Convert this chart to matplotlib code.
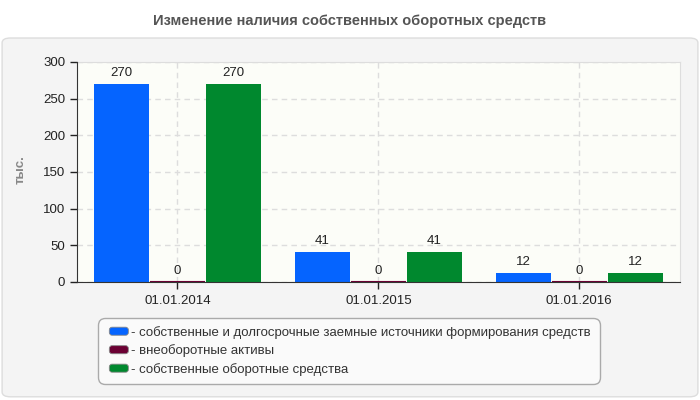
import matplotlib
matplotlib.use("Agg")
import matplotlib.pyplot as plt
from matplotlib.patches import FancyBboxPatch, Rectangle
from matplotlib.legend_handler import HandlerPatch
import numpy as np

plt.rcParams['font.family'] = ['Liberation Sans', 'DejaVu Sans']
plt.rcParams['hatch.linewidth'] = 0.6
plt.rcParams['hatch.color'] = '#ececec'

dates = ["01.01.2014", "01.01.2015", "01.01.2016"]
series_names = [
    "собственные и долгосрочные заемные источники формирования средств",
    "внеоборотные активы",
    "собственные оборотные средства",
]
own_long_term = [270, 41, 12]
non_current = [0, 0, 0]
working_capital = [270, 41, 12]
colors = ["#0564ff", "#6b0033", "#00882e"]
y_ticks = [0, 50, 100, 150, 200, 250, 300]

fig = plt.figure(figsize=(7, 4), dpi=100)
fig.patch.set_facecolor("white")

# outer rounded panel
panel = FancyBboxPatch((0.003, 0.008), 0.994, 0.897,
                       boxstyle="round,pad=0,rounding_size=0.012",
                       transform=fig.transFigure, facecolor="#f4f4f4",
                       edgecolor="#dddddd", linewidth=1, zorder=-10)
fig.patches.append(panel)

fig.text(0.5, 0.948, "Изменение наличия собственных оборотных средств",
         ha="center", va="center", fontsize=10.5, fontweight="bold", color="#555555")

ax = fig.add_axes([0.11, 0.295, 0.861, 0.55])
ax.patch.set_facecolor("#fcfdf8")
ax.patch.set_hatch("//////")

x = np.arange(len(dates))
w = 55 / 201
step = 56 / 201
all_series = [own_long_term, non_current, working_capital]
for i, (vals, c, name) in enumerate(zip(all_series, colors, series_names)):
    pos = x + (i - 1) * step
    ax.bar(pos, vals, width=w, color=c, zorder=3,
           edgecolor=c, linewidth=1.5 if max(vals) == 0 else 0)
    for p, v in zip(pos, vals):
        ax.text(p, v + 7, str(v), ha="center", va="bottom", fontsize=9.5,
                color="#222222", zorder=4)

ax.set_xlim(-0.5, 2.5)
ax.set_ylim(0, 300)
ax.set_yticks(y_ticks)
ax.set_xticks(x)
ax.set_xticklabels(dates)
ax.tick_params(axis="both", labelsize=9.5, colors="#222222", length=5, width=1)
ax.tick_params(axis="x", pad=4)
ax.grid(True, color="#dddddd", linestyle=(0, (4, 3)), linewidth=1, zorder=1)
ax.set_axisbelow(True)
for s in ["top", "right"]:
    ax.spines[s].set_color("#dddddd")
for s in ["left", "bottom"]:
    ax.spines[s].set_color("#333333")
    ax.spines[s].set_zorder(5)

fig.text(0.03, 0.575, "тыс.", rotation=90, ha="center", va="center",
         fontsize=9.5, fontweight="bold", color="#888888")


def rounded_handle(legend, orig_handle, xdescent, ydescent, width, height, fontsize):
    hw = 13.7
    hh = 5.8
    x0 = -xdescent + width - hw
    y0 = -ydescent + (height - hh) / 2
    return FancyBboxPatch((x0, y0), hw, hh,
                          boxstyle="round,pad=0,rounding_size=2")


handles = [Rectangle((0, 0), 1, 1, facecolor=c, edgecolor="#888888", linewidth=0.6)
           for c in colors]
labels = ["- " + n for n in series_names]
hmap = {h: HandlerPatch(patch_func=rounded_handle) for h in handles}
leg = fig.legend(handles, labels, handler_map=hmap,
                 loc="upper left", bbox_to_anchor=(0.14, 0.0425, 0.717, 0.1625),
                 bbox_transform=fig.transFigure, mode="expand", fontsize=9.5,
                 frameon=True, fancybox=True, handlelength=1.7, handleheight=0.65,
                 handletextpad=0.2, labelspacing=0.42, borderpad=0.6,
                 borderaxespad=0, labelcolor="#333333")
frame = leg.get_frame()
frame.set_facecolor("#fafafa")
frame.set_edgecolor("#aaaaaa")
frame.set_alpha(1)
frame.set_boxstyle("round,pad=0,rounding_size=0.5")

fig.savefig("out.png", dpi=100)
